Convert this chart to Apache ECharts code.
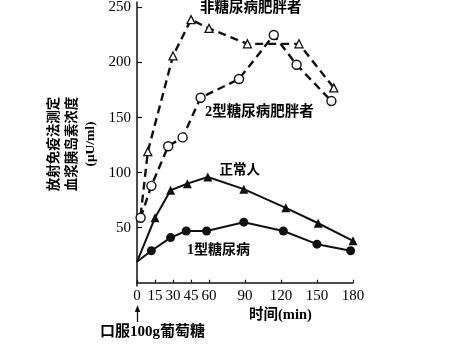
<!DOCTYPE html>
<html>
<head>
<meta charset="utf-8">
<script src="https://cdn.jsdelivr.net/npm/echarts@6/dist/echarts.min.js"></script>
<style>
html,body{margin:0;padding:0;background:#fff;}
#chart{width:449px;height:348px;}
</style>
</head>
<body>
<div id="chart"></div>
<script>
// ---- data (time in min, insulin in μU/ml) ----
var xTickValues = [0, 15, 30, 45, 60, 90, 120, 150, 180];
var yTickValues = [50, 100, 150, 200, 250];

var obeseTimes  = [3, 9, 30, 45, 60, 92, 135, 164];
var obeseValues = [61, 119, 206, 239, 231, 217, 217, 177];

var type2Times  = [3, 12, 26, 38, 53, 85, 114, 133, 162];
var type2Values = [59, 88, 124, 132, 168, 185, 225, 198, 165];

var normalTimes  = [0, 15, 28, 42, 59, 89, 124, 151, 180];
var normalValues = [19, 59, 84, 90, 96, 85, 68, 54, 38];

var type1Times  = [0, 12, 28, 41, 58, 89, 122, 150, 178];
var type1Values = [19, 29, 41, 47, 47, 55, 47, 35, 29];

var seriesNames = ['非糖尿病肥胖者', '2型糖尿病肥胖者', '正常人', '1型糖尿病'];
var yAxisTitle = ['放射免疫法测定', '血浆胰岛素浓度', '(μU/ml)'];
var xAxisTitle = '时间(min)';
var startNote = '口服100g葡萄糖';

function pairs(ts, vs, firstHidden) {
  return ts.map(function (t, i) {
    var d = { value: [t, vs[i]] };
    if (firstHidden && i === 0) d.symbol = 'none';
    return d;
  });
}

var FONT = '"Liberation Serif", "Noto Sans CJK SC", serif';
var INK = '#111';

function note(text, x, y, size) {
  return {
    type: 'text', x: x, y: y,
    style: { text: text, font: 'bold ' + size + 'px ' + FONT, fill: '#000', align: 'left', verticalAlign: 'middle' }
  };
}

var chart = echarts.init(document.getElementById('chart'), null, { renderer: 'canvas' });

var option = {
  backgroundColor: '#fff',
  animation: false,
  grid: { left: 137, right: 96, top: 0, bottom: 62 },
  xAxis: {
    type: 'value',
    min: 0, max: 180,
    axisLine: { show: true, lineStyle: { color: INK, width: 1.5 } },
    axisTick: { show: true, inside: true, length: 3, customValues: xTickValues, lineStyle: { color: INK, width: 1.2 } },
    axisLabel: { customValues: xTickValues, margin: 3, color: '#000', fontSize: 15, fontFamily: FONT },
    splitLine: { show: false }
  },
  yAxis: {
    type: 'value',
    min: -3, max: 255,
    name: yAxisTitle.join('\n'),
    nameLocation: 'middle',
    nameRotate: 90,
    nameGap: 37,
    nameTextStyle: { fontSize: 13.5, fontWeight: 'bold', lineHeight: 18, color: '#000', fontFamily: FONT, align: 'center' },
    axisLine: { show: true, lineStyle: { color: INK, width: 1.5 } },
    axisTick: { show: true, inside: true, length: 5, customValues: yTickValues, lineStyle: { color: INK, width: 1.2 } },
    axisLabel: { customValues: yTickValues, margin: 6, color: '#000', fontSize: 15, fontFamily: FONT },
    splitLine: { show: false }
  },
  series: [
    {
      name: seriesNames[0], type: 'line',
      data: pairs(obeseTimes, obeseValues, true),
      symbol: 'triangle', symbolSize: 8,
      itemStyle: { color: '#fff', borderColor: INK, borderWidth: 1.3 },
      lineStyle: { color: INK, width: 2.4, type: [8, 5] },
      z: 3
    },
    {
      name: seriesNames[1], type: 'line',
      data: pairs(type2Times, type2Values, false),
      symbol: 'circle', symbolSize: 9,
      itemStyle: { color: '#fff', borderColor: INK, borderWidth: 1.4 },
      lineStyle: { color: INK, width: 2.4, type: [8, 5] },
      z: 4
    },
    {
      name: seriesNames[2], type: 'line',
      data: pairs(normalTimes, normalValues, true),
      symbol: 'triangle', symbolSize: 9,
      itemStyle: { color: INK, borderColor: INK, borderWidth: 0 },
      lineStyle: { color: INK, width: 2 },
      z: 3
    },
    {
      name: seriesNames[3], type: 'line',
      data: pairs(type1Times, type1Values, true),
      symbol: 'circle', symbolSize: 9,
      itemStyle: { color: INK, borderColor: INK, borderWidth: 0 },
      lineStyle: { color: INK, width: 2 },
      z: 3
    }
  ],
  graphic: [
    note(seriesNames[0], 200, 8.7, 14.5),
    note(seriesNames[1], 205, 112.5, 14.5),
    note(seriesNames[2], 219.5, 170.5, 13.5),
    note(seriesNames[3], 187, 250, 14),
    note(xAxisTitle, 249, 315.7, 14.5),
    note(startNote, 100, 331.7, 15),
    { type: 'line', shape: { x1: 137.5, y1: 322, x2: 137.5, y2: 309 }, style: { stroke: INK, lineWidth: 1.3 } },
    { type: 'polygon', shape: { points: [[137.5, 305], [134.8, 312], [140.2, 312]] }, style: { fill: INK } }
  ]
};

chart.setOption(option);
</script>
</body>
</html>
